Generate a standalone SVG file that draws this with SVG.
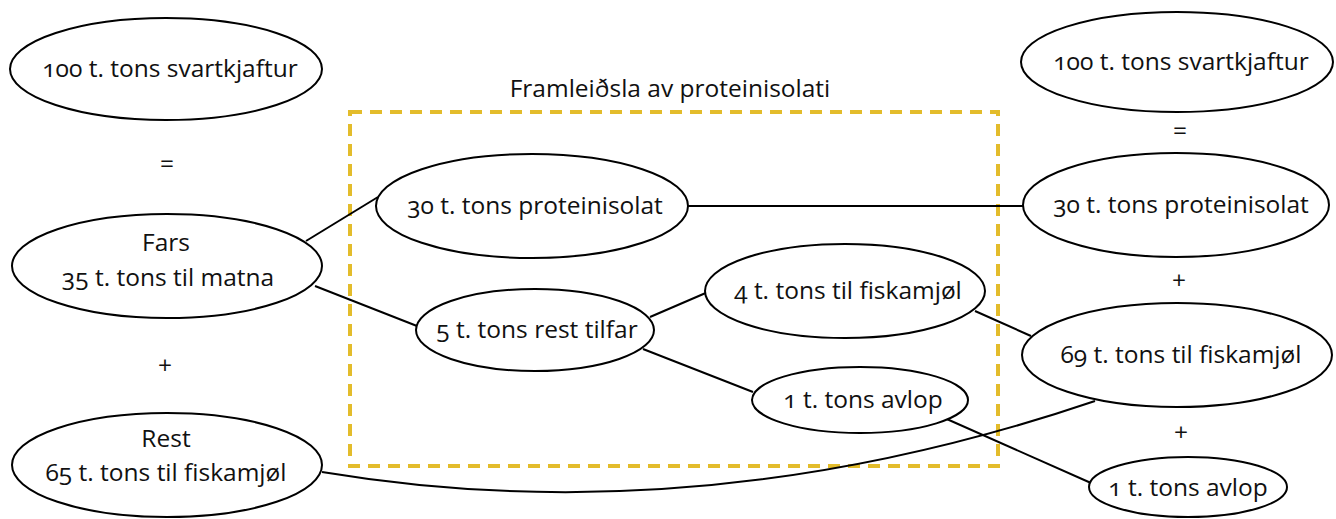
<svg xmlns="http://www.w3.org/2000/svg" width="1336" height="519" viewBox="0 0 1336 519">
<style>
text{font-family:"Open Sans","Noto Sans","Liberation Sans",sans-serif;font-size:24.5px;fill:#111;text-anchor:middle;font-variant-numeric:oldstyle-nums;font-feature-settings:"onum" 1;}
.n ellipse{fill:#fff;stroke:#000;stroke-width:2;}
.c path,.c line{fill:none;stroke:#000;stroke-width:2;}
.box{fill:none;stroke:#E3BC2B;stroke-width:4;stroke-dasharray:12 8;}
</style>
<rect width="1336" height="519" fill="#fff"/>
<g id="cluster">
<rect class="box" x="350" y="112" width="648" height="354"/>
<text x="670" y="97">Framleiðsla av proteinisolati</text>
</g>
<g class="c" id="connectors">
<line x1="306" y1="241" x2="378" y2="197"/>
<line x1="315" y1="286" x2="417" y2="326"/>
<line x1="688" y1="206" x2="1023" y2="206"/>
<line x1="650" y1="317" x2="708" y2="292"/>
<line x1="643" y1="349" x2="753" y2="392"/>
<line x1="975" y1="311" x2="1031" y2="336"/>
<line x1="940" y1="416" x2="1091" y2="483"/>
<path d="M322,472 Q700,535 1095,401"/>
</g>
<g class="n" id="n_l_total"><ellipse cx="166" cy="69" rx="156" ry="51"/><text x="170" y="77">100 t. tons svartkjaftur</text></g>
<text x="167" y="172">=</text>
<g class="n" id="n_fars"><ellipse cx="167" cy="266" rx="155" ry="52"/><text x="166" y="251">Fars</text><text x="168" y="286">35 t. tons til matna</text></g>
<text x="165" y="374">+</text>
<g class="n" id="n_rest"><ellipse cx="167" cy="465" rx="155" ry="52"/><text x="166" y="447">Rest</text><text x="166" y="481">65 t. tons til fiskamjøl</text></g>
<g class="n" id="n_prot"><ellipse cx="532" cy="206" rx="156" ry="52"/><text x="535" y="214">30 t. tons proteinisolat</text></g>
<g class="n" id="n_resttilfar"><ellipse cx="535" cy="330" rx="119" ry="41"/><text x="537" y="338">5 t. tons rest tilfar</text></g>
<g class="n" id="n_fish4"><ellipse cx="845" cy="291" rx="140" ry="47"/><text x="848" y="299">4 t. tons til fiskamjøl</text></g>
<g class="n" id="n_avlop1"><ellipse cx="860" cy="400" rx="108" ry="33"/><text x="863" y="408">1 t. tons avlop</text></g>
<g class="n" id="n_r_total"><ellipse cx="1177" cy="62" rx="156" ry="50"/><text x="1181" y="70">100 t. tons svartkjaftur</text></g>
<text x="1180" y="139">=</text>
<g class="n" id="n_r_prot"><ellipse cx="1176" cy="205" rx="153" ry="52"/><text x="1181" y="213">30 t. tons proteinisolat</text></g>
<text x="1179" y="289">+</text>
<g class="n" id="n_r_fish"><ellipse cx="1177" cy="355" rx="155" ry="52"/><text x="1181" y="363">69 t. tons til fiskamjøl</text></g>
<text x="1181" y="441">+</text>
<g class="n" id="n_r_avlop"><ellipse cx="1188" cy="487" rx="99" ry="30"/><text x="1188" y="496">1 t. tons avlop</text></g>
</svg>
